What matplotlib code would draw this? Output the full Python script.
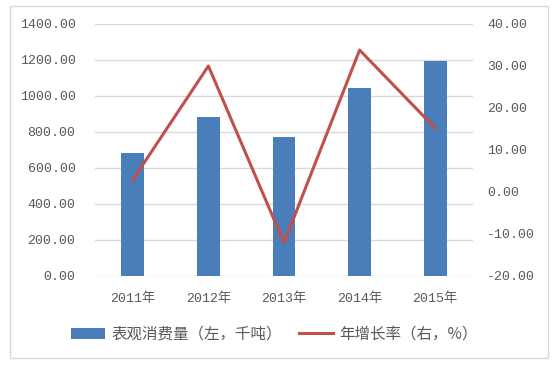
import matplotlib
matplotlib.use("Agg")
import matplotlib.pyplot as plt
from matplotlib.patches import Rectangle

plt.rcParams['font.family'] = ['Noto Sans CJK SC', 'DejaVu Sans']

years = ['2011年', '2012年', '2013年', '2014年', '2015年']
consumption = [683, 883, 772, 1044, 1197]   # 表观消费量, 千吨
growth = [2.9, 30.0, -12.1, 33.8, 15.2]     # 年增长率, %

grey = '#595959'
tick_font = ['Liberation Mono', 'Noto Sans CJK SC']

fig = plt.figure(figsize=(5.58, 3.66), dpi=100)
# outer frame
fig.patches.append(Rectangle((10 / 558, 1 - 358 / 366), 538 / 558, 352 / 366,
                             transform=fig.transFigure, fill=False,
                             edgecolor='#d9d9d9', linewidth=1))

ax = fig.add_axes([95 / 558, 1 - 276 / 366, 378 / 558, 252 / 366])
x = list(range(len(years)))
ax.bar(x, consumption, width=0.3, color='#4a7ebb', label='表观消费量（左，千吨）', zorder=2)
ax.set_ylim(0, 1400)
ax.set_yticks(range(0, 1401, 200))
ax.set_yticklabels([f'{v:.2f}' for v in range(0, 1401, 200)], family=tick_font)
ax.set_xlim(-0.5, 4.5)
ax.set_xticks(x)
ax.set_xticklabels(years, family=tick_font)
ax.grid(axis='y', color='#d9d9d9', linewidth=1, zorder=0)
for s in ax.spines.values():
    s.set_visible(False)
ax.tick_params(length=0, colors=grey, labelsize=9.5)
ax.tick_params(axis='y', pad=14)
ax.tick_params(axis='x', pad=12)

ax2 = ax.twinx()
ax2.plot(x, growth, color='#c0504d', linewidth=2.2, label='年增长率（右，%）', zorder=3)
ax2.set_ylim(-20, 40)
ax2.set_yticks(range(-20, 41, 10))
ax2.set_yticklabels([f'{v:.2f}' for v in range(-20, 41, 10)], family=tick_font)
for s in ax2.spines.values():
    s.set_visible(False)
ax2.tick_params(length=0, colors=grey, labelsize=9.5, pad=10)

h1, l1 = ax.get_legend_handles_labels()
h2, l2 = ax2.get_legend_handles_labels()
fig.legend(h1 + h2, l1 + l2, loc='center', bbox_to_anchor=(0.492, 1 - 334 / 366),
           ncol=2, frameon=False, fontsize=11.2, labelcolor=grey,
           handlelength=2.2, columnspacing=1.1, handletextpad=0.4)

fig.savefig('out.png', dpi=100)
